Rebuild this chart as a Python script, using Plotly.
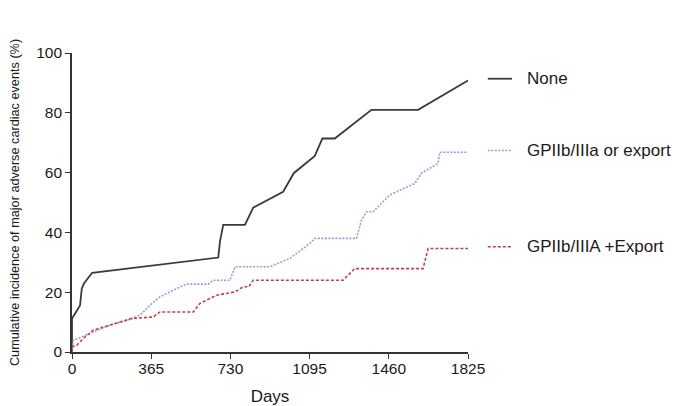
import plotly.graph_objects as go

# Data (days, cumulative incidence %)
none_days = [0, 0, 37, 45, 55, 93, 674, 682, 697, 797, 835, 973, 1022, 1119, 1154, 1211, 1380, 1595, 1825]
none_pct = [0, 11.2, 15.6, 21.2, 22.9, 26.5, 31.6, 37.0, 42.5, 42.5, 48.3, 53.6, 59.8, 65.6, 71.4, 71.4, 81.0, 81.0, 90.8]

or_days = [0, 6, 37, 83, 175, 252, 313, 359, 405, 467, 528, 628, 651, 728, 751, 912, 1004, 1096, 1119,
           1311, 1334, 1357, 1388, 1464, 1580, 1610, 1687, 1695, 1825]
or_pct = [0, 3.9, 4.8, 6.2, 9.0, 10.6, 12.3, 15.6, 18.4, 20.7, 22.7, 22.7, 24.0, 24.0, 28.5, 28.5, 31.3, 36.3, 38.0,
          38.0, 44.1, 46.9, 46.9, 52.5, 56.4, 59.8, 63.1, 66.8, 66.8]

plus_days = [0, 0, 21, 52, 98, 175, 275, 374, 405, 559, 589, 666, 751, 789, 815, 835, 1249, 1303, 1618, 1641, 1825]
plus_pct = [0, 1.7, 2.2, 4.5, 7.3, 9.0, 11.2, 11.7, 13.4, 13.4, 16.2, 19.0, 20.1, 21.8, 21.8, 24.0, 24.0, 27.9, 27.9, 34.6, 34.6]

series_names = ["None", "GPIIb/IIIa or export", "GPIIb/IIIA +Export"]
x_ticks = [0, 365, 730, 1095, 1460, 1825]
y_ticks = [0, 20, 40, 60, 80, 100]

FONT = "Liberation Sans, Arial, sans-serif"
styles = [
    dict(color="#3a3a3a", width=1.8, dash="solid"),
    dict(color="#9a9ad8", width=1.6, dash="2px,1.5px"),
    dict(color="#c83c4c", width=1.6, dash="3px,2px"),
]
data = [(none_days, none_pct), (or_days, or_pct), (plus_days, plus_pct)]

fig = go.Figure()
for (xs, ys), name, st in zip(data, series_names, styles):
    fig.add_trace(go.Scatter(x=xs, y=ys, mode="lines", name=name, line=st,
                             showlegend=False, cliponaxis=False))

# Legend drawn at the end levels of each curve, to the right of the plot
for (xs, ys), name, st in zip(data, series_names, styles):
    fig.add_shape(type="line", xref="paper", yref="y", x0=1.05, x1=1.111,
                  y0=ys[-1] + 0.6, y1=ys[-1] + 0.6, line=st)
    fig.add_annotation(xref="paper", yref="y", x=1.143, y=ys[-1] + 0.6, text=name,
                       showarrow=False, xanchor="left", yanchor="middle",
                       font=dict(family=FONT, size=17, color="#1a1a1a"))

axis_common = dict(showline=True, linecolor="#333333", linewidth=1.6, ticks="outside",
                   ticklen=5, tickwidth=1.4, tickcolor="#333333", showgrid=False, zeroline=False,
                   automargin=False,
                   tickfont=dict(family=FONT, size=15.5, color="#1a1a1a"))

# The page body adds an 8px offset, so the figure is sized to fit inside the window
fig.update_layout(
    width=676, height=398,
    margin=dict(l=64, r=216, t=45, b=54),
    paper_bgcolor="white", plot_bgcolor="white",
    xaxis=dict(range=[0, 1825], tickvals=x_ticks, ticktext=[str(v) for v in x_ticks],
               ticklabelstandoff=-3,
               title=dict(text="Days", font=dict(family=FONT, size=17, color="#1a1a1a"), standoff=14),
               **axis_common),
    yaxis=dict(range=[0, 100], tickvals=y_ticks, ticktext=[str(v) for v in y_ticks],
               title=dict(text="Cumulative incidence of major adverse cardiac events (%)",
                          font=dict(family=FONT, size=12.7, color="#1a1a1a"), standoff=16),
               **axis_common),
)

fig.write_html("out.html")
